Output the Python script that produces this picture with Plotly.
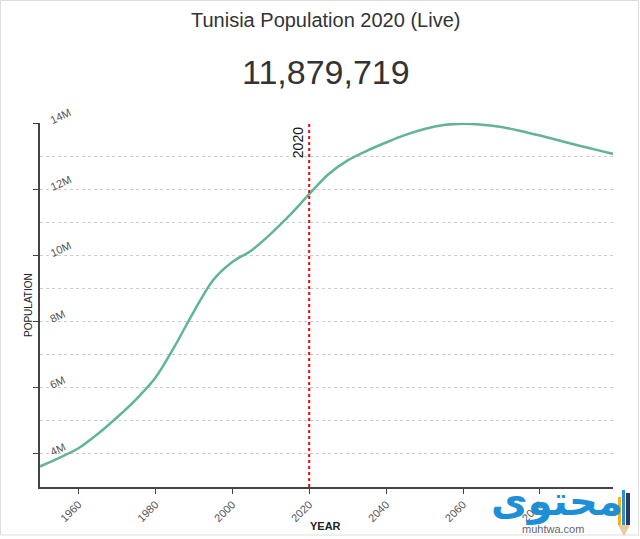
import plotly.graph_objects as go

years = [1950, 1955, 1960, 1965, 1970, 1975, 1980, 1985, 1990, 1995, 2000, 2005,
         2010, 2015, 2020, 2025, 2030, 2035, 2040, 2045, 2050, 2055, 2060, 2065,
         2070, 2075, 2080, 2085, 2090, 2095, 2100]
population = [3.62, 3.88, 4.17, 4.60, 5.10, 5.65, 6.30, 7.25, 8.30, 9.25, 9.80, 10.15,
              10.65, 11.22, 11.85, 12.45, 12.87, 13.16, 13.41, 13.64, 13.82, 13.94, 13.98, 13.95,
              13.88, 13.76, 13.62, 13.47, 13.32, 13.18, 13.04]
population = [p * 1e6 for p in population]

y_tickvals = [4e6, 6e6, 8e6, 10e6, 12e6, 14e6]
y_ticktext = ["4M", "6M", "8M", "10M", "12M", "14M"]
x_tickvals = [1960, 1980, 2000, 2020, 2040, 2060, 2080]
x_ticktext = [str(v) for v in x_tickvals]

title_text = "Tunisia Population 2020 (Live)"
live_value = "11,879,719"
current_year = 2020

W, H = 640, 539
L, R, T, B = 40, 27, 123, 52
PW = W - L - R
PH = H - T - B

def px(x):
    return (x - L) / PW

def py(y):
    return (H - B - y) / PH

fig = go.Figure()
fig.add_trace(go.Scatter(
    x=years, y=population, mode="lines",
    line=dict(color="#63b399", width=2.5, shape="spline", smoothing=0.9),
    hoverinfo="x+y", showlegend=False,
))

fig.add_shape(type="line", x0=current_year, x1=current_year, y0=3e6, y1=14e6,
              xref="x", yref="y", line=dict(color="red", width=2, dash="dot"))

annotations = [
    dict(text=title_text, x=px(325), y=py(20), xref="paper", yref="paper",
         showarrow=False, font=dict(size=20, color="#333333"), xanchor="center", yanchor="middle"),
    dict(text=live_value, x=px(326), y=py(72), xref="paper", yref="paper",
         showarrow=False, font=dict(size=34, color="#333333"), xanchor="center", yanchor="middle"),
    dict(text=str(current_year), x=current_year, y=py(143), xref="x", yref="paper",
         showarrow=False, textangle=-90, font=dict(size=14, color="#111111"),
         xanchor="right", yanchor="middle", xshift=-1),
    dict(text="<b>YEAR</b>", x=px(325), y=py(526), xref="paper", yref="paper",
         showarrow=False, font=dict(size=11, color="#222222"), xanchor="center", yanchor="middle"),
    dict(text="POPULATION", x=px(28), y=py(305), xref="paper", yref="paper",
         showarrow=False, textangle=-90, font=dict(size=10, color="#222222"),
         xanchor="center", yanchor="middle"),
    dict(text="<b>محتوى</b>", x=px(557), y=py(501), xref="paper", yref="paper",
         showarrow=False, font=dict(size=40, color="#1d8fd6", family="DejaVu Sans"),
         xanchor="center", yanchor="middle"),
    dict(text="muhtwa.com", x=px(553), y=py(529), xref="paper", yref="paper",
         showarrow=False, font=dict(size=11, color="#666666"),
         xanchor="center", yanchor="middle"),
]
# y tick labels (placed inside the plot, just above each gridline, rotated)
for v, t in zip(y_tickvals, y_ticktext):
    annotations.append(dict(
        text=t, x=px(46), y=v, xref="paper", yref="y", showarrow=False,
        textangle=-25, font=dict(size=11, color="#555555"),
        xanchor="left", yanchor="bottom", yshift=-6,
    ))

shapes_extra = [
    dict(type="rect", xref="paper", yref="paper", x0=px(0.5), x1=px(638.5), y0=py(535), y1=py(0.5),
         line=dict(color="#dddddd", width=1), layer="below"),
    dict(type="rect", xref="paper", yref="paper", x0=px(618), x1=px(621), y0=py(525), y1=py(497),
         line=dict(width=0), fillcolor="#f5b21b"),
    dict(type="rect", xref="paper", yref="paper", x0=px(622), x1=px(625), y0=py(525), y1=py(490),
         line=dict(width=0), fillcolor="#2b8fd4"),
    dict(type="rect", xref="paper", yref="paper", x0=px(626), x1=px(630), y0=py(525), y1=py(493),
         line=dict(width=0), fillcolor="#2c3a6b"),
    dict(type="path", xref="paper", yref="paper",
         path=f"M {px(618)} {py(525)} L {px(630)} {py(525)} L {px(624)} {py(536)} Z",
         line=dict(width=0), fillcolor="#e8c9a0"),
]
for s in shapes_extra:
    fig.add_shape(**s)

fig.update_layout(
    width=W, height=H,
    margin=dict(l=L, r=R, t=T, b=B, autoexpand=False),
    paper_bgcolor="white", plot_bgcolor="white",
    font=dict(family="Liberation Sans, Arial, sans-serif", color="#555555", size=11),
    annotations=annotations,
    xaxis=dict(
        range=[1950, 2099], tickvals=x_tickvals, ticktext=x_ticktext,
        tickangle=-45, ticks="outside", ticklen=5, tickcolor="#444444",
        showline=True, linecolor="#444444", linewidth=1.5,
        showgrid=False, zeroline=False,
        tickfont=dict(size=11, color="#555555"),
    ),
    yaxis=dict(
        range=[3e6, 14e6], tickvals=y_tickvals, ticktext=["" for _ in y_tickvals],
        ticks="outside", ticklen=5, tickcolor="#444444",
        showline=True, linecolor="#444444", linewidth=1.5,
        showgrid=True, gridcolor="#cccccc", griddash="dot", gridwidth=1,
        minor=dict(tickvals=[5e6, 7e6, 9e6, 11e6, 13e6], showgrid=True,
                   gridcolor="#cccccc", griddash="dot", gridwidth=1),
        zeroline=False,
    ),
)

fig.write_html("out.html", config={"displayModeBar": False},
               post_script="document.body.style.margin='0';document.body.style.padding='0';")
